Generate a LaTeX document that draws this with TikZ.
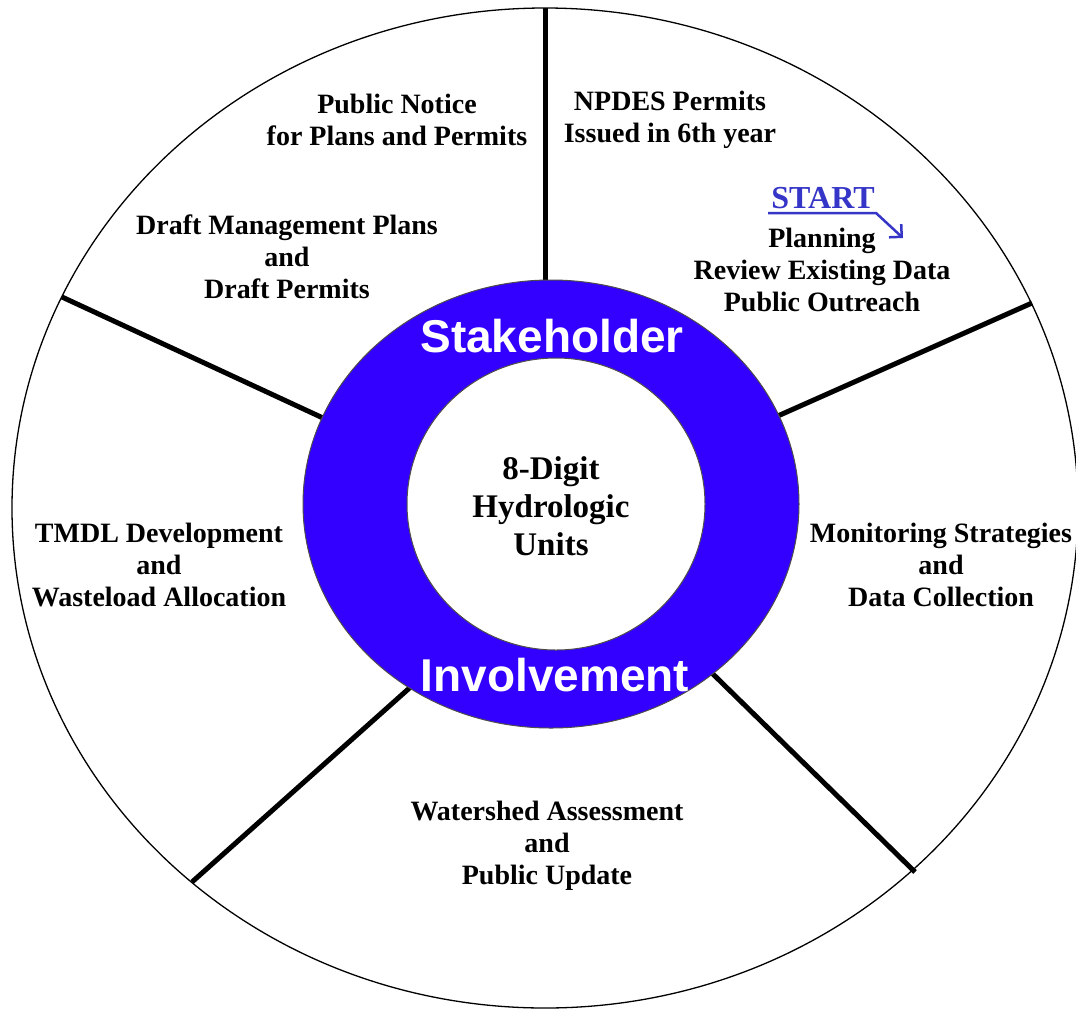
\documentclass[tikz,border=0pt]{standalone}
\usepackage{fontspec}
\setmainfont{Liberation Serif}
\newfontfamily\ringfont{Liberation Sans}
\usetikzlibrary{arrows.meta,calc}
\definecolor{ringblue}{HTML}{3300FF}
\definecolor{startblue}{HTML}{3535C8}

\begin{document}
\begin{tikzpicture}[x=1pt,y=-1pt,
    spoke/.style={line width=5pt},
    lbl/.style={font=\bfseries\fontsize{28}{32}\selectfont, align=center, inner sep=0pt},
    ringlbl/.style={font=\ringfont\bfseries\fontsize{46}{50}\selectfont, text=white, inner sep=0pt}]
  \useasboundingbox (0,0) rectangle (1076,1010);
  \fill[white] (0,0) rectangle (1076,1010);

  % Outer wheel
  \draw[line width=1.3pt] (545,508) ellipse [x radius=533pt, y radius=500pt];

  % Spokes: rim point and where they meet the ring
  \coordinate (topO) at (545,8);    \coordinate (topI) at (545,280);
  \coordinate (urO)  at (1032,303); \coordinate (urI)  at (780,415);
  \coordinate (lrO)  at (915,872);  \coordinate (lrI)  at (717,678);
  \coordinate (llO)  at (192,882);  \coordinate (llI)  at (405,692);
  \coordinate (ulO)  at (62,297);   \coordinate (ulI)  at (323,418);
  \foreach \o/\i in {topO/topI, urO/urI, lrO/lrI, llO/llI, ulO/ulI}
    \draw[spoke] (\o) -- ($(\o)!1.08!(\i)$);

  % Stakeholder ring and hub
  \draw[draw=black!70, line width=1pt, fill=ringblue] (551,504) ellipse [x radius=248pt, y radius=224pt];
  \draw[draw=black!70, line width=1pt, fill=white] (556,504) ellipse [x radius=149pt, y radius=146pt];
  \node[ringlbl] (stake) at (552,336) {Stakeholder};
  \node[ringlbl] (involve) at (555,675) {Involvement};
  \node[lbl, font=\bfseries\fontsize{33}{38}\selectfont] (hub) at (551,506) {8-Digit\\Hydrologic\\Units};

  % Cycle steps
  \node[lbl] (notice) at (397,120) {Public Notice\\for Plans and Permits};
  \node[lbl] (npdes) at (670,120) {NPDES Permits\\Issued in 6th year};
  \node[lbl, font=\bfseries\fontsize{32}{36}\selectfont, text=startblue] (start) at (823,198) {START};
  \node[lbl] (planning) at (822,270) {Planning\\Review Existing Data\\Public Outreach};
  \node[lbl] (monitor) at (941,565) {Monitoring Strategies\\and\\Data Collection};
  \node[lbl] (assess) at (547,846) {Watershed Assessment\\and\\Public Update};
  \node[lbl] (tmdl) at (159,565) {TMDL Development\\and\\Wasteload Allocation};
  \node[lbl] (draft) at (287,257) {Draft Management Plans\\and\\Draft Permits};

  % Underline of START bending into the arrow
  \coordinate (ulStart) at (768,213);
  \coordinate (ulEnd) at (876,213);
  \coordinate (tip) at (903,238);
  \draw[startblue, line width=2.5pt, -{Straight Barb[angle'=90,length=9pt]}] (ulStart) -- (ulEnd) -- (tip);
\end{tikzpicture}
\end{document}
